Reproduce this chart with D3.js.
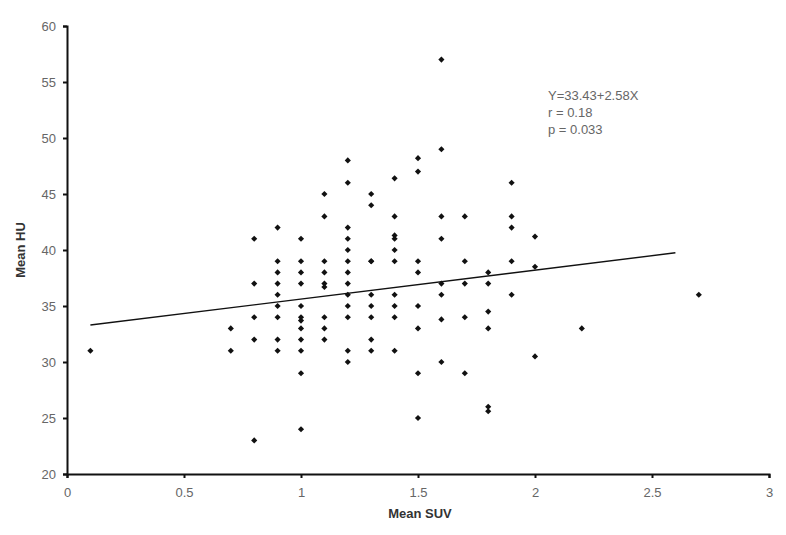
<!DOCTYPE html>
<html>
<head>
<meta charset="utf-8">
<script src="https://cdn.jsdelivr.net/npm/d3@7"></script>
<style>
  body { margin: 0; background: #fff; }
  text { font-family: "Liberation Sans", Arial, sans-serif; }
</style>
</head>
<body>
<svg id="svg" width="786" height="535"></svg>
<script>
// Data: one list of HU values per SUV column
var suvValues = [0.1, 0.7, 0.8, 0.9, 1.0, 1.1, 1.2, 1.3, 1.4, 1.5, 1.6, 1.7, 1.8, 1.9, 2.0, 2.2, 2.7];
var huValues = [
  [31],
  [33, 31],
  [41, 37, 34, 32, 23],
  [42, 39, 38, 37, 36, 35, 34, 32, 31],
  [41, 39, 38, 37, 35, 34, 33.7, 33, 32, 31, 29, 24],
  [45, 43, 39, 38, 37, 36.7, 34, 33, 32],
  [48, 46, 42, 41, 40, 39, 38, 37, 36, 35, 34, 31, 30],
  [45, 44, 39, 39, 36, 35, 34, 32, 31],
  [46.4, 43, 41.3, 41, 40, 39, 36, 35, 34, 31],
  [48.2, 47, 39, 38, 35, 33, 29, 25],
  [57, 49, 43, 41, 37, 36, 33.8, 30],
  [43, 39, 37, 34, 29],
  [38, 37, 34.5, 33, 26, 25.6],
  [46, 43, 42, 39, 36],
  [41.2, 38.5, 30.5],
  [33],
  [36]
];
// regression line as drawn
var fitX = [0.1, 2.6];
var fitY = [33.3, 39.75];

var xTicks = [0, 0.5, 1, 1.5, 2, 2.5, 3];
var yTicks = [20, 25, 30, 35, 40, 45, 50, 55, 60];
var statsText = ["Y=33.43+2.58X", "r = 0.18", "p = 0.033"];

var svg = d3.select("#svg");

var x = d3.scaleLinear().domain([0, 3]).range([67, 769]);
var y = d3.scaleLinear().domain([20, 60]).range([474, 26]);

var points = [];
suvValues.forEach((s, i) => {
  huValues[i].forEach(h => points.push({ suv: s, hu: h }));
});

// axes
var gx = svg.append("g")
  .attr("transform", "translate(0," + y(20) + ")")
  .call(d3.axisBottom(x).tickValues(xTicks).tickSize(4).tickPadding(10)
    .tickFormat(d => d));
var gy = svg.append("g")
  .attr("transform", "translate(" + x(0) + ",0)")
  .call(d3.axisLeft(y).tickValues(yTicks).tickSize(4).tickPadding(7));

[gx, gy].forEach(g => {
  g.select(".domain").attr("stroke", "#111").attr("stroke-width", 2);
  g.selectAll(".tick line").attr("stroke", "#111").attr("stroke-width", 2);
  g.selectAll(".tick text")
    .attr("fill", "#666")
    .style("font-size", "13px")
    .style("font-family", "Liberation Sans, Arial, sans-serif");
});

// regression line
svg.append("line")
  .attr("x1", x(fitX[0])).attr("y1", y(fitY[0]))
  .attr("x2", x(fitX[1])).attr("y2", y(fitY[1]))
  .attr("stroke", "#111")
  .attr("stroke-width", 1.4);

// diamond markers
svg.selectAll(".pt")
  .data(points)
  .enter().append("path")
  .attr("class", "pt")
  .attr("d", d3.symbol().type(d3.symbolDiamond2).size(24))
  .attr("transform", d => "translate(" + x(d.suv) + "," + y(d.hu) + ")")
  .attr("fill", "#111");

// stats annotation
svg.append("g").selectAll("text")
  .data(statsText)
  .enter().append("text")
  .attr("x", 548)
  .attr("y", (d, i) => 100 + i * 17)
  .attr("fill", "#666")
  .style("font-size", "13px")
  .text(d => d);

// axis titles
svg.append("text")
  .attr("x", 420).attr("y", 518)
  .attr("text-anchor", "middle")
  .style("font-size", "13px")
  .style("font-weight", "bold")
  .attr("fill", "#333")
  .text("Mean SUV");

svg.append("text")
  .attr("transform", "translate(25," + 250 + ")rotate(-90)")
  .attr("text-anchor", "middle")
  .style("font-size", "13px")
  .style("font-weight", "bold")
  .attr("fill", "#333")
  .text("Mean HU");
</script>
</body>
</html>
